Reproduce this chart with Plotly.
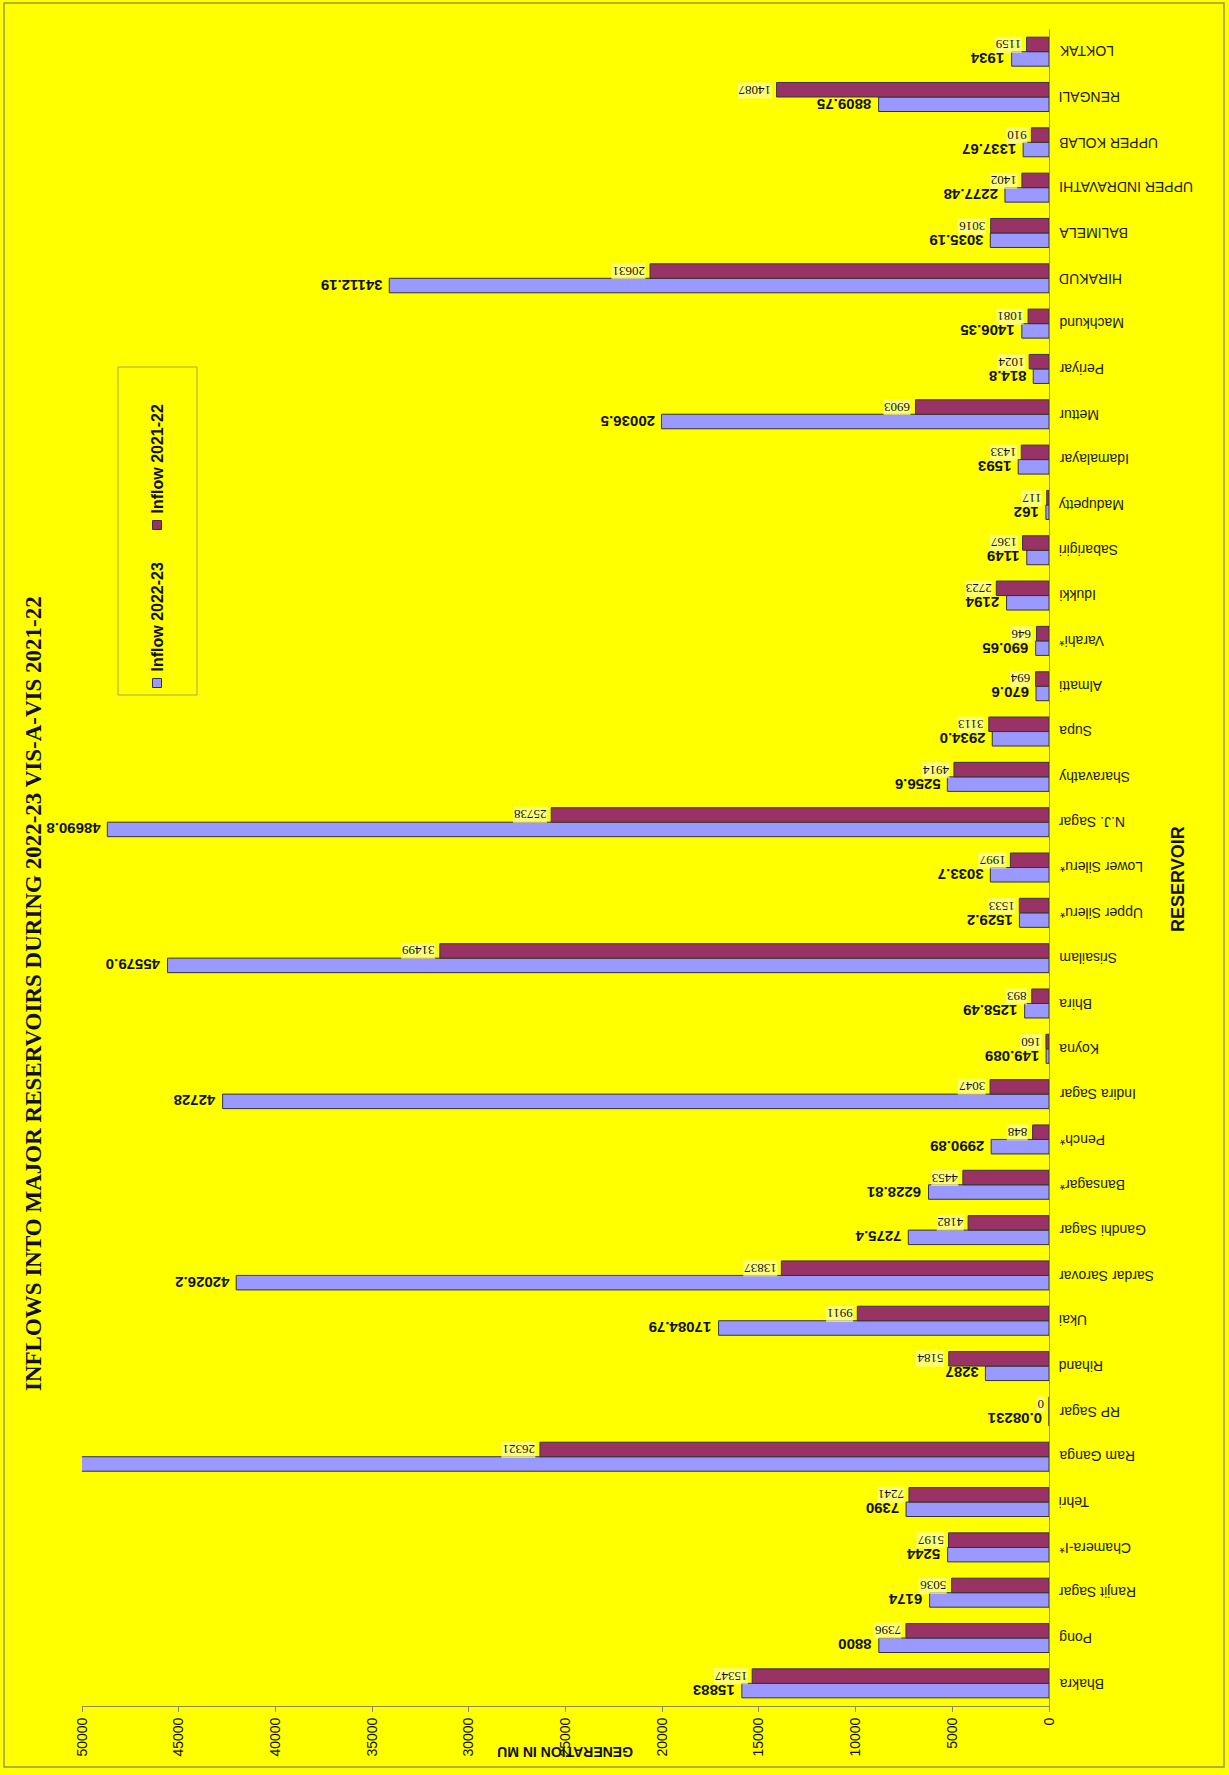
import plotly.graph_objects as go

# Reservoirs (bottom to top) and inflows in MU
reservoirs = [
    "Bhakra", "Pong", "Ranjit Sagar", "Chamera-I*", "Tehri", "Ram Ganga", "RP Sagar",
    "Rihand", "Ukai", "Sardar Sarovar", "Gandhi Sagar", "Bansagar*", "Pench*",
    "Indira Sagar", "Koyna", "Bhira", "Srisailam", "Upper Sileru*", "Lower Sileru*",
    "N.J. Sagar", "Sharavathy", "Supa", "Almatti", "Varahi*", "Idukki", "Sabarigiri",
    "Madupetty", "Idamalayar", "Mettur", "Periyar", "Machkund", "HIRAKUD", "BALIMELA",
    "UPPER INDRAVATHI", "UPPER KOLAB", "RENGALI", "LOKTAK",
]

inflow_2022_23 = [
    15883, 8800, 6174, 5244, 7390, 51000, 0.08231,
    3287, 17084.79, 42026.2, 7275.4, 6228.81, 2990.89,
    42728, 149.089, 1258.49, 45579.0, 1529.2, 3033.7,
    48690.8, 5256.6, 2934.0, 670.6, 690.65, 2194, 1149,
    162, 1593, 20036.5, 814.8, 1406.35, 34112.19, 3035.19,
    2277.48, 1337.67, 8809.75, 1934,
]
labels_2022_23 = [
    "15883", "8800", "6174", "5244", "7390", "", "0.08231",
    "3287", "17084.79", "42026.2", "7275.4", "6228.81", "2990.89",
    "42728", "149.089", "1258.49", "45579.0", "1529.2", "3033.7",
    "48690.8", "5256.6", "2934.0", "670.6", "690.65", "2194", "1149",
    "162", "1593", "20036.5", "814.8", "1406.35", "34112.19", "3035.19",
    "2277.48", "1337.67", "8809.75", "1934",
]

inflow_2021_22 = [
    15347, 7396, 5036, 5197, 7241, 26321, 0,
    5184, 9911, 13837, 4182, 4453, 848,
    3047, 160, 893, 31499, 1533, 1997,
    25738, 4914, 3113, 694, 646, 2723, 1367,
    117, 1433, 6903, 1024, 1081, 20631, 3016,
    1402, 910, 14087, 1159,
]

value_ticks = [0, 5000, 10000, 15000, 20000, 25000, 30000, 35000, 40000, 45000, 50000]

W, H = 1229, 1775
L, R, T, B = 82, 180, 29, 69
PW, PH = W - L - R, H - T - B

SANS = "Liberation Sans, Arial, sans-serif"
SERIF = "Liberation Serif, Times New Roman, serif"
BG = "#FFFF00"
BLUE = "#9999FF"
MAROON = "#993366"
EDGE = "#333333"


def px(x):
    return (x - L) / PW


def py(y):
    return (H - B - y) / PH


fig = go.Figure()
fig.add_trace(go.Bar(
    y=reservoirs, x=inflow_2022_23, orientation="h", name="Inflow 2022-23",
    marker=dict(color=BLUE, line=dict(color=EDGE, width=1)),
))
fig.add_trace(go.Bar(
    y=reservoirs, x=inflow_2021_22, orientation="h", name="Inflow 2021-22",
    marker=dict(color=MAROON, line=dict(color=EDGE, width=1)),
))

annotations = []

# value labels at the end of each bar, turned upside down
for name, v, t in zip(reservoirs, inflow_2022_23, labels_2022_23):
    if t:
        annotations.append(dict(
            x=v, y=name, xref="x", yref="y", text=f"<b>{t}</b>", showarrow=False,
            xanchor="right", yanchor="middle", xshift=-5, yshift=-7, textangle=180,
            font=dict(family=SANS, size=15, color="#111111"),
        ))
for name, v in zip(reservoirs, inflow_2021_22):
    annotations.append(dict(
        x=v, y=name, xref="x", yref="y", text=f"{v:g}", showarrow=False,
        xanchor="right", yanchor="middle", xshift=-4, yshift=7, textangle=180,
        bgcolor="rgba(255,255,170,0.7)", borderpad=0,
        font=dict(family=SERIF, size=13, color="#111111"),
    ))

# reservoir names beside the category axis
for name in reservoirs:
    annotations.append(dict(
        x=1, y=name, xref="paper", yref="y", text=name, showarrow=False,
        xanchor="left", yanchor="middle", xshift=8, textangle=180,
        font=dict(family=SANS, size=14, color="#1a1a1a"),
    ))

# titles
annotations += [
    dict(x=px(33), y=py(994), xref="paper", yref="paper", showarrow=False,
         text="<b>INFLOWS INTO MAJOR RESERVOIRS DURING 2022-23 VIS-A-VIS 2021-22</b>",
         textangle=-90, xanchor="center", yanchor="middle",
         font=dict(family=SERIF, size=23, color="#111111")),
    dict(x=0.5, y=py(1752), xref="paper", yref="paper", showarrow=False,
         text="<b>GENERATION IN MU</b>", textangle=180, xanchor="center", yanchor="middle",
         font=dict(family=SANS, size=14, color="#111111")),
    dict(x=px(1178), y=py(879), xref="paper", yref="paper", showarrow=False,
         text="<b>RESERVOIR</b>", textangle=-90, xanchor="center", yanchor="middle",
         font=dict(family=SANS, size=18, color="#111111")),
]

# legend drawn sideways
legend_items = [("Inflow 2022-23", BLUE, 683), ("Inflow 2021-22", MAROON, 525)]
shapes = [
    dict(type="rect", xref="paper", yref="paper", x0=px(4), x1=px(1224), y0=py(1767), y1=py(3),
         line=dict(color="#9a9a40", width=1.5), fillcolor="rgba(0,0,0,0)", layer="below"),
    dict(type="rect", xref="paper", yref="paper", x0=px(118), x1=px(197), y0=py(695), y1=py(367),
         line=dict(color="#a8a850", width=1), fillcolor="rgba(0,0,0,0)"),
]
for label, color, yc in legend_items:
    shapes.append(dict(type="rect", xref="paper", yref="paper",
                       x0=px(152.5), x1=px(161.5), y0=py(yc + 4.5), y1=py(yc - 4.5),
                       line=dict(color=EDGE, width=1), fillcolor=color))
    annotations.append(dict(x=px(157), y=py(yc - 9), xref="paper", yref="paper",
                            text=f"<b>{label}</b>", showarrow=False, textangle=-90,
                            xanchor="center", yanchor="bottom",
                            font=dict(family=SANS, size=16, color="#111111")))

fig.update_layout(
    width=W, height=H,
    margin=dict(l=L, r=R, t=T, b=B, pad=0),
    paper_bgcolor=BG, plot_bgcolor=BG,
    barmode="group", bargap=0.36, bargroupgap=0,
    showlegend=False,
    annotations=annotations, shapes=shapes,
    xaxis=dict(
        range=[50000, 0], tickvals=value_ticks, ticktext=[str(v) for v in value_ticks],
        tickangle=-90, ticks="outside", ticklen=5, tickcolor="#8c8c5a",
        showline=True, linecolor="#8c8c5a", linewidth=1, showgrid=False, zeroline=False,
        tickfont=dict(family=SANS, size=14, color="#111111"),
    ),
    yaxis=dict(
        side="right", showline=True, linecolor="#8c8c5a", linewidth=1,
        showticklabels=False, ticks="", showgrid=False, zeroline=False,
        categoryorder="array", categoryarray=reservoirs,
    ),
)

fig.write_html("out.html")
